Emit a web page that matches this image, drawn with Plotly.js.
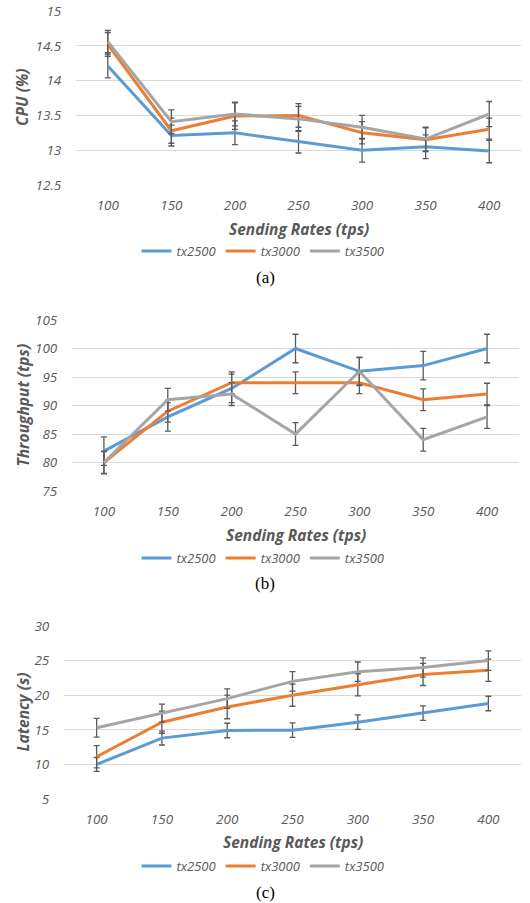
<!DOCTYPE html>
<html>
<head>
<meta charset="utf-8">
<script src="https://cdn.plot.ly/plotly-3.0.1.min.js"></script>
<style>html,body{margin:0;padding:0;background:#fff;}#chart{width:530px;height:903px;}</style>
</head>
<body>
<div id="chart"></div>
<script>
// ---- data ----
const rates = ['100', '150', '200', '250', '300', '350', '400'];
const seriesNames = ['tx2500', 'tx3000', 'tx3500'];

const cpu2500 = [14.21, 13.21, 13.25, 13.12, 13.00, 13.05, 12.99];
const cpu3000 = [14.52, 13.28, 13.49, 13.50, 13.25, 13.15, 13.30];
const cpu3500 = [14.56, 13.41, 13.52, 13.45, 13.33, 13.16, 13.52];
const cpuErr2500 = [0.17, 0.15, 0.17, 0.16, 0.17, 0.17, 0.17];
const cpuErr3000 = [0.17, 0.18, 0.19, 0.17, 0.16, 0.17, 0.16];
const cpuErr3500 = [0.16, 0.17, 0.17, 0.18, 0.17, 0.17, 0.18];

const thr2500 = [82, 88, 93, 100, 96, 97, 100];
const thr3000 = [80, 89, 94, 94, 94, 91, 92];
const thr3500 = [80, 91, 92, 85, 96, 84, 88];
const thrErr2500 = [2.5, 2.5, 2.5, 2.5, 2.5, 2.5, 2.5];
const thrErr3000 = [1.9, 1.9, 1.9, 1.9, 1.9, 1.9, 1.9];
const thrErr3500 = [2.0, 2.0, 2.0, 2.0, 2.4, 2.0, 2.0];

const lat2500 = [10.0, 13.8, 14.9, 14.95, 16.1, 17.4, 18.8];
const lat3000 = [11.1, 16.1, 18.3, 20.0, 21.5, 23.0, 23.6];
const lat3500 = [15.3, 17.4, 19.5, 22.0, 23.4, 24.0, 25.0];
const latErr2500 = [1.0, 1.0, 1.05, 1.05, 1.05, 1.05, 1.05];
const latErr3000 = [1.6, 1.6, 1.7, 1.6, 1.6, 1.6, 1.6];
const latErr3500 = [1.35, 1.3, 1.4, 1.4, 1.4, 1.4, 1.4];

const cpuTicks = [12.5, 13, 13.5, 14, 14.5, 15];
const thrTicks = [75, 80, 85, 90, 95, 100, 105];
const latTicks = [5, 10, 15, 20, 25, 30];

// ---- styles ----
const colors = ['#5B9BD5', '#ED7D31', '#A5A5A5'];
const FONT = '"Open Sans", Lato, sans-serif';
const W = 530, H = 903;

function mk(y, err, i, xa, ya, lg) {
  return {
    x: rates, y: y, type: 'scatter', mode: 'lines', name: seriesNames[i],
    xaxis: xa, yaxis: ya, legend: lg, showlegend: true,
    line: {color: colors[i], width: 3},
    error_y: {type: 'data', array: err, visible: true, color: '#5a5a5a', thickness: 1.3, width: 3}
  };
}

const traces = [
  mk(cpu2500, cpuErr2500, 0, 'x', 'y', 'legend'),
  mk(cpu3000, cpuErr3000, 1, 'x', 'y', 'legend'),
  mk(cpu3500, cpuErr3500, 2, 'x', 'y', 'legend'),
  mk(thr2500, thrErr2500, 0, 'x2', 'y2', 'legend2'),
  mk(thr3000, thrErr3000, 1, 'x2', 'y2', 'legend2'),
  mk(thr3500, thrErr3500, 2, 'x2', 'y2', 'legend2'),
  mk(lat2500, latErr2500, 0, 'x3', 'y3', 'legend3'),
  mk(lat3000, latErr3000, 1, 'x3', 'y3', 'legend3'),
  mk(lat3500, latErr3500, 2, 'x3', 'y3', 'legend3')
];

// pixel boxes of the three plot areas
const boxes = [
  {l: 76, r: 521, t: 11, b: 185, range: [12.5, 15], ticks: cpuTicks, ytitle: 'CPU (%)', cap: '(a)', xt: 229, lg: 251, capy: 277},
  {l: 72, r: 519, t: 320, b: 491, range: [75, 105], ticks: thrTicks, ytitle: 'Throughput (tps)', cap: '(b)', xt: 535, lg: 558, capy: 583},
  {l: 64, r: 521, t: 626, b: 799, range: [5, 30], ticks: latTicks, ytitle: 'Latency (s)', cap: '(c)', xt: 842, lg: 866, capy: 892}
];

const layout = {
  width: W, height: H,
  margin: {l: 0, r: 0, t: 0, b: 0},
  paper_bgcolor: '#fff', plot_bgcolor: '#fff',
  font: {family: FONT, color: '#595959', size: 13},
  annotations: []
};

boxes.forEach((bx, k) => {
  const sfx = k === 0 ? '' : String(k + 1);
  layout['xaxis' + sfx] = {
    domain: [bx.l / W, bx.r / W],
    anchor: 'y' + sfx,
    type: 'category',
    range: [-0.5, 6.5],
    showgrid: false, zeroline: false, showline: false,
    ticks: 'outside', ticklen: 8, tickcolor: 'rgba(0,0,0,0)',
    tickfont: {family: FONT, size: 13.5, color: '#595959', style: 'italic'}
  };
  layout['yaxis' + sfx] = {
    domain: [1 - bx.b / H, 1 - bx.t / H],
    anchor: 'x' + sfx,
    range: bx.range,
    tickmode: 'array', tickvals: bx.ticks, ticktext: bx.ticks.map(v => String(v)),
    showgrid: true, gridcolor: '#D9D9D9', gridwidth: 1,
    zeroline: false, showline: false,
    ticks: 'outside', ticklen: 11, tickcolor: 'rgba(0,0,0,0)',
    tickfont: {family: FONT, size: 13.5, color: '#595959', style: 'italic'}
  };
  layout[k === 0 ? 'legend' : 'legend' + (k + 1)] = {
    orientation: 'h', x: 263 / W, xanchor: 'center', y: 1 - bx.lg / H, yanchor: 'middle',
    font: {family: FONT, size: 13, color: '#595959', style: 'italic'},
    bgcolor: 'rgba(0,0,0,0)', itemwidth: 30, tracegroupgap: 0
  };
  layout.annotations.push({
    text: 'Sending Rates (tps)', xref: 'paper', yref: 'paper',
    x: (bx.l + bx.r) / 2 / W, y: 1 - bx.xt / H, xanchor: 'center', yanchor: 'middle', showarrow: false,
    font: {family: FONT, size: 15.5, color: '#595959', weight: 'bold', style: 'italic'}
  });
  layout.annotations.push({
    text: bx.ytitle, xref: 'paper', yref: 'paper', textangle: -90,
    x: 22 / W, y: 1 - (bx.t + bx.b) / 2 / H, xanchor: 'center', yanchor: 'middle', showarrow: false,
    font: {family: FONT, size: 15.5, color: '#595959', weight: 'bold', style: 'italic'}
  });
  layout.annotations.push({
    text: bx.cap, xref: 'paper', yref: 'paper',
    x: 265 / W, y: 1 - bx.capy / H, xanchor: 'center', yanchor: 'middle', showarrow: false,
    font: {family: '"Liberation Serif", "DejaVu Serif", serif', size: 17, color: '#000'}
  });
});

Plotly.newPlot('chart', traces, layout, {staticPlot: true, displayModeBar: false});
</script>
</body>
</html>
